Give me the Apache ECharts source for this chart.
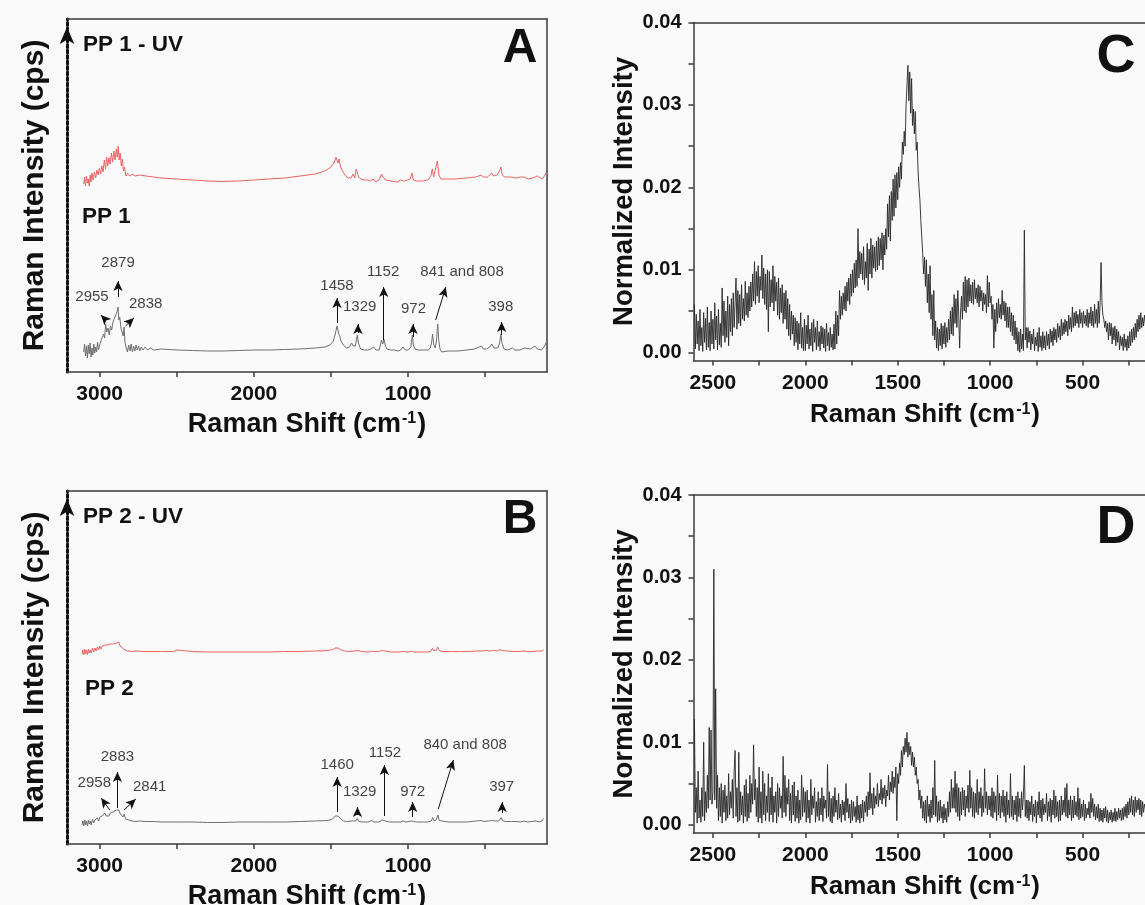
<!DOCTYPE html>
<html>
<head>
<meta charset="utf-8">
<title>Raman spectra PP1 / PP2</title>
<script src="https://cdn.jsdelivr.net/npm/echarts@6.0.0/dist/echarts.min.js"></script>
<style>
  html, body { margin: 0; padding: 0; background: #fafafa; }
  #chart { width: 1145px; height: 905px; }
</style>
</head>
<body>
<div id="chart"></div>
<script>
// ---- panel A : PP 1 (gray) and PP 1 - UV (red), [shift, intensity a.u.]
const pp1 = [[3104,20],[3098,28],[3092,16],[3086,26],[3080,14],[3074,27],[3068,18],[3062,29],[3056,15],[3050,24],[3044,17],[3038,28],[3032,19],[3026,25],[3020,20],[3014,30],[3008,22],[3002,26],[2996,24],[2990,32],[2982,30],[2975,38],[2968,34],[2961,48],[2954,40],[2946,44],[2938,37],[2930,46],[2922,42],[2914,50],[2906,48],[2898,56],[2890,54],[2884,62],[2881,65],[2876,52],[2870,55],[2862,44],[2855,42],[2848,36],[2842,45],[2836,30],[2828,24],[2820,20],[2812,27],[2804,21],[2796,28],[2788,20],[2780,26],[2772,21],[2764,27],[2756,22],[2748,26],[2740,21],[2730,25],[2720,22],[2705,25],[2690,22],[2670,24],[2650,22],[2600,23],[2500,22],[2400,21.5],[2300,21],[2200,21],[2100,21.5],[2000,22],[1900,22],[1800,22.5],[1700,23],[1600,24],[1540,25],[1505,27],[1485,31],[1472,38],[1461,46],[1452,40],[1444,38],[1435,31],[1420,27],[1400,24],[1380,25],[1366,29],[1356,26],[1342,26],[1333,34],[1329,37],[1322,29],[1308,23],[1285,22],[1262,22],[1242,23],[1223,25],[1208,22],[1188,22],[1172,32],[1164,28],[1157,33],[1148,27],[1138,23],[1115,22],[1090,22],[1065,21],[1048,22],[1033,25],[1018,22],[998,22],[982,25],[976,33],[972,37],[966,27],[955,23],[935,22],[900,22],[870,22],[856,24],[848,29],[841,38],[834,28],[824,24],[816,31],[808,48],[801,32],[793,23],[782,20],[740,21],[680,21],[620,22],[570,23],[540,25],[524,26],[512,23],[492,23],[470,25],[456,28],[442,24],[418,24],[406,29],[398,38],[391,29],[378,23],[355,22],[322,24],[308,22],[275,22],[244,24],[232,22],[205,23],[178,26],[162,23],[135,22],[115,26],[103,30]];

const pp1uv = [[3104,188],[3098,195],[3092,186],[3086,196],[3080,189],[3074,193],[3068,186],[3062,197],[3056,190],[3050,199],[3042,192],[3034,200],[3026,194],[3018,202],[3010,197],[3002,204],[2994,198],[2986,206],[2978,200],[2970,212],[2962,203],[2955,215],[2948,206],[2940,214],[2932,208],[2924,219],[2916,210],[2908,221],[2900,212],[2892,223],[2886,215],[2880,226],[2874,212],[2867,219],[2860,206],[2853,213],[2846,201],[2839,205],[2830,196],[2820,199],[2805,196],[2790,198],[2770,196],[2740,197],[2700,196],[2650,195],[2600,194],[2500,193],[2400,192],[2300,191],[2200,190.5],[2100,191],[2000,192],[1900,193],[1800,194],[1700,196],[1600,198],[1540,201],[1500,205],[1478,210],[1467,215],[1461,217],[1455,209],[1447,213],[1438,205],[1422,200],[1405,196],[1388,194],[1370,194],[1356,198],[1346,194],[1336,203],[1330,200],[1322,195],[1305,193],[1285,192],[1262,192],[1245,191],[1226,193],[1210,190],[1188,192],[1172,198],[1164,195],[1155,197],[1145,192],[1110,191],[1070,190],[1048,192],[1030,191],[1002,192],[986,193],[975,199],[966,192],[945,191],[905,191],[872,192],[852,196],[843,203],[834,195],[822,197],[810,211],[800,197],[787,193],[750,193],[700,193],[620,194],[560,195],[526,197],[512,195],[485,195],[459,199],[446,196],[422,197],[407,201],[398,205],[389,197],[372,195],[335,195],[300,194],[270,195],[246,195],[222,193],[190,194],[162,196],[132,193],[116,196],[104,199]];

// ---- panel B : PP 2 (gray) and PP 2 - UV (red)
const pp2 = [[3115,19],[3109,23],[3103,18],[3097,24],[3091,19],[3085,23],[3079,18],[3073,24],[3067,20],[3061,23],[3055,19],[3047,25],[3039,21],[3031,24],[3023,22],[3015,26],[3007,23],[2999,27],[2991,25],[2983,28],[2975,26],[2966,31],[2958,28],[2950,30],[2941,28],[2932,31],[2922,29],[2912,32],[2902,31],[2892,34],[2884,32],[2876,34],[2866,30],[2856,29],[2848,27],[2841,30],[2832,25],[2822,23],[2812,24],[2800,22],[2790,23],[2770,22.5],[2740,23],[2700,22.5],[2650,22.5],[2600,22],[2500,22],[2400,22],[2300,21.5],[2200,21.5],[2100,22],[2000,22],[1900,22],[1800,22],[1700,22.5],[1600,23],[1520,23.5],[1490,25],[1472,28],[1462,30],[1454,28],[1446,29],[1436,25],[1420,23],[1400,22.5],[1360,23],[1340,23],[1330,25.5],[1322,23],[1300,22],[1260,22],[1235,23.5],[1222,22],[1190,22],[1168,24],[1156,25],[1146,23],[1120,22],[1080,22],[1050,22],[1035,23],[1015,22],[995,22.5],[978,23],[970,24.5],[962,22.5],[940,22],[900,22],[870,22],[850,23],[840,26.5],[832,23],[818,24],[806,29],[798,23.5],[786,22],[740,22],[680,22],[620,22],[560,23],[524,23.5],[508,22.5],[480,23],[458,23.5],[430,23],[412,23],[402,25],[396,26.5],[388,23.5],[370,22.5],[330,22.5],[300,22.5],[268,22],[248,23],[228,22],[200,22.5],[170,23],[150,22],[132,23],[121,25.5]];

const pp2uv = [[3115,190],[3109,194],[3103,189],[3097,195],[3091,190],[3085,194],[3079,189],[3073,195],[3067,191],[3061,194],[3055,191],[3047,196],[3039,192],[3031,196],[3023,193],[3015,197],[3007,194],[2999,198],[2991,195],[2983,198],[2975,196],[2966,199],[2958,197],[2950,199],[2940,197],[2930,200],[2920,198],[2910,200],[2900,199],[2890,201],[2882,200],[2876,202],[2868,198],[2860,200],[2852,196],[2844,198],[2836,194],[2828,196],[2818,193],[2805,193],[2790,192.5],[2760,193],[2720,192.5],[2680,192.5],[2600,192.5],[2520,192.5],[2498,194],[2488,192.5],[2400,192.5],[2300,192],[2200,192],[2100,192],[2000,192],[1900,192],[1800,192.5],[1700,192.5],[1600,193],[1520,193.5],[1490,194.5],[1472,196],[1462,197.5],[1454,196],[1446,196.5],[1434,194],[1415,193],[1380,192.5],[1345,193],[1333,194.5],[1325,193.5],[1300,192.5],[1260,192],[1230,192.5],[1190,192.5],[1168,193.5],[1158,194.5],[1146,193],[1110,192],[1060,192],[1035,192.5],[1000,192],[975,192.8],[960,192],[920,192],[870,192],[852,193],[842,195.7],[834,193.5],[818,193.5],[808,197],[798,193.5],[780,192.5],[720,192.5],[660,192.5],[600,192.5],[555,193],[524,193],[500,193.5],[470,193],[448,193.5],[420,193],[404,194.5],[397,195.2],[390,193.5],[360,193],[320,192.5],[280,192.5],[250,193],[230,192.5],[190,192.5],[160,193],[130,193],[121,194.5]];

// ---- panels C and D : normalized spectra, shared shift axis (cm-1)
const shiftCD = [
  2600,2595,2590,2585,2580,2575,2570,2565,2560,2555,2550,2545,2540,2535,2530,2525,2520,2515,2510,2505,
  2500,2495,2490,2485,2480,2475,2470,2465,2460,2455,2450,2445,2440,2435,2430,2425,2420,2415,2410,2405,
  2400,2395,2390,2385,2380,2375,2370,2365,2360,2355,2350,2345,2340,2335,2330,2325,2320,2315,2310,2305,
  2300,2295,2290,2285,2280,2275,2270,2265,2260,2255,2250,2245,2240,2235,2230,2225,2220,2215,2210,2205,
  2200,2195,2190,2185,2180,2175,2170,2165,2160,2155,2150,2145,2140,2135,2130,2125,2120,2115,2110,2105,
  2100,2095,2090,2085,2080,2075,2070,2065,2060,2055,2050,2045,2040,2035,2030,2025,2020,2015,2010,2005,
  2000,1995,1990,1985,1980,1975,1970,1965,1960,1955,1950,1945,1940,1935,1930,1925,1920,1915,1910,1905,
  1900,1895,1890,1885,1880,1875,1870,1865,1860,1855,1850,1845,1840,1835,1830,1825,1820,1815,1810,1805,
  1800,1795,1790,1785,1780,1775,1770,1765,1760,1755,1750,1745,1740,1735,1730,1725,1720,1715,1710,1705,
  1700,1695,1690,1685,1680,1675,1670,1665,1660,1655,1650,1645,1640,1635,1630,1625,1620,1615,1610,1605,
  1600,1595,1590,1585,1580,1575,1570,1565,1560,1555,1550,1545,1540,1535,1530,1525,1520,1515,1510,1505,
  1500,1495,1490,1485,1480,1475,1470,1465,1460,1455,1450,1445,1440,1435,1430,1425,1420,1415,1410,1405,
  1400,1395,1390,1385,1380,1375,1370,1365,1360,1355,1350,1345,1340,1335,1330,1325,1320,1315,1310,1305,
  1300,1295,1290,1285,1280,1275,1270,1265,1260,1255,1250,1245,1240,1235,1230,1225,1220,1215,1210,1205,
  1200,1195,1190,1185,1180,1175,1170,1165,1160,1155,1150,1145,1140,1135,1130,1125,1120,1115,1110,1105,
  1100,1095,1090,1085,1080,1075,1070,1065,1060,1055,1050,1045,1040,1035,1030,1025,1020,1015,1010,1005,
  1000,995,990,985,980,975,970,965,960,955,950,945,940,935,930,925,920,915,910,905,
  900,895,890,885,880,875,870,865,860,855,850,845,840,835,830,825,820,815,810,805,
  800,795,790,785,780,775,770,765,760,755,750,745,740,735,730,725,720,715,710,705,
  700,695,690,685,680,675,670,665,660,655,650,645,640,635,630,625,620,615,610,605,
  600,595,590,585,580,575,570,565,560,555,550,545,540,535,530,525,520,515,510,505,
  500,495,490,485,480,475,470,465,460,455,450,445,440,435,430,425,420,415,410,405,
  400,395,390,385,380,375,370,365,360,355,350,345,340,335,330,325,320,315,310,305,
  300,295,290,285,280,275,270,265,260,255,250,245,240,235,230,225,220,215,210,205,
  200,195,190,185,180,175,170,165,160
];

const normC = [
  0.0058,0.0004,0.0046,0.0010,0.0038,0.0002,0.0052,0.0008,0.0030,0.0001,0.0048,0.0012,0.0041,0.0003,0.0055,0.0006,0.0036,0.0002,0.0050,0.0010,
  0.0040,0.0004,0.0060,0.0015,0.0044,0.0003,0.0052,0.0009,0.0035,0.0006,0.0078,0.0020,0.0062,0.0012,0.0050,0.0018,0.0068,0.0008,0.0058,0.0025,
  0.0065,0.0020,0.0072,0.0030,0.0060,0.0090,0.0028,0.0075,0.0035,0.0070,0.0032,0.0082,0.0040,0.0065,0.0038,0.0086,0.0045,0.0072,0.0042,0.0080,
  0.0050,0.0085,0.0055,0.0095,0.0062,0.0110,0.0058,0.0098,0.0068,0.0105,0.0060,0.0092,0.0075,0.0118,0.0065,0.0102,0.0058,0.0095,0.0052,0.0100,
  0.0025,0.0098,0.0055,0.0088,0.0060,0.0105,0.0050,0.0092,0.0062,0.0085,0.0045,0.0090,0.0040,0.0078,0.0048,0.0082,0.0035,0.0072,0.0040,0.0075,
  0.0028,0.0065,0.0020,0.0058,0.0015,0.0050,0.0022,0.0045,0.0008,0.0042,0.0012,0.0038,0.0003,0.0035,0.0010,0.0048,0.0005,0.0030,0.0002,0.0040,
  0.0002,0.0033,0.0010,0.0045,0.0004,0.0028,0.0008,0.0036,0.0001,0.0040,0.0012,0.0030,0.0003,0.0038,0.0007,0.0025,0.0002,0.0032,0.0010,0.0030,
  0.0005,0.0028,0.0001,0.0035,0.0008,0.0024,0.0002,0.0030,0.0006,0.0022,0.0003,0.0034,0.0004,0.0050,0.0010,0.0045,0.0020,0.0075,0.0040,0.0068,
  0.0045,0.0072,0.0052,0.0080,0.0050,0.0085,0.0062,0.0090,0.0058,0.0095,0.0068,0.0100,0.0072,0.0108,0.0078,0.0112,0.0080,0.0150,0.0090,0.0122,
  0.0095,0.0120,0.0088,0.0128,0.0082,0.0110,0.0090,0.0132,0.0075,0.0125,0.0095,0.0138,0.0090,0.0130,0.0102,0.0128,0.0098,0.0135,0.0100,0.0140,
  0.0105,0.0138,0.0112,0.0145,0.0100,0.0142,0.0118,0.0150,0.0125,0.0180,0.0140,0.0190,0.0135,0.0195,0.0160,0.0210,0.0165,0.0215,0.0175,0.0218,
  0.0185,0.0225,0.0200,0.0230,0.0210,0.0255,0.0240,0.0268,0.0250,0.0300,0.0300,0.0348,0.0305,0.0340,0.0290,0.0332,0.0275,0.0295,0.0265,0.0292,
  0.0245,0.0255,0.0220,0.0200,0.0185,0.0160,0.0140,0.0120,0.0095,0.0115,0.0080,0.0112,0.0060,0.0095,0.0048,0.0105,0.0040,0.0070,0.0020,0.0075,
  0.0015,0.0038,0.0005,0.0030,0.0002,0.0028,0.0008,0.0035,0.0004,0.0032,0.0010,0.0036,0.0006,0.0030,0.0012,0.0040,0.0015,0.0050,0.0022,0.0055,
  0.0020,0.0070,0.0035,0.0065,0.0030,0.0075,0.0045,0.0005,0.0050,0.0068,0.0040,0.0085,0.0050,0.0092,0.0048,0.0088,0.0055,0.0090,0.0062,0.0082,
  0.0060,0.0085,0.0058,0.0088,0.0065,0.0078,0.0060,0.0082,0.0055,0.0080,0.0062,0.0075,0.0050,0.0072,0.0058,0.0070,0.0048,0.0093,0.0055,0.0085,
  0.0060,0.0068,0.0040,0.0058,0.0005,0.0052,0.0025,0.0060,0.0035,0.0065,0.0042,0.0058,0.0040,0.0075,0.0045,0.0062,0.0038,0.0060,0.0030,0.0055,
  0.0030,0.0055,0.0025,0.0048,0.0020,0.0045,0.0015,0.0038,0.0010,0.0030,0.0002,0.0025,0.0000,0.0028,0.0004,0.0022,0.0002,0.0148,0.0015,0.0030,
  0.0005,0.0030,0.0012,0.0026,0.0003,0.0022,0.0010,0.0028,0.0002,0.0018,0.0008,0.0024,0.0001,0.0030,0.0006,0.0020,0.0002,0.0025,0.0005,0.0020,
  0.0003,0.0025,0.0008,0.0022,0.0004,0.0028,0.0012,0.0026,0.0008,0.0030,0.0015,0.0028,0.0012,0.0035,0.0018,0.0032,0.0015,0.0040,0.0020,0.0036,
  0.0022,0.0040,0.0025,0.0038,0.0020,0.0045,0.0028,0.0042,0.0025,0.0055,0.0030,0.0048,0.0032,0.0050,0.0035,0.0046,0.0030,0.0052,0.0035,0.0048,
  0.0030,0.0050,0.0035,0.0045,0.0032,0.0052,0.0030,0.0048,0.0035,0.0055,0.0032,0.0050,0.0030,0.0058,0.0035,0.0052,0.0030,0.0062,0.0035,0.0060,
  0.0109,0.0060,0.0045,0.0040,0.0030,0.0038,0.0025,0.0035,0.0015,0.0036,0.0020,0.0035,0.0010,0.0030,0.0015,0.0032,0.0008,0.0028,0.0012,0.0025,
  0.0003,0.0020,0.0008,0.0018,0.0002,0.0022,0.0006,0.0016,0.0002,0.0020,0.0005,0.0025,0.0008,0.0028,0.0012,0.0030,0.0015,0.0035,0.0018,0.0040,
  0.0025,0.0045,0.0028,0.0048,0.0030,0.0042,0.0032,0.0045,0.0035
];

const normD = [
  0.0128,0.0015,0.0045,0.0002,0.0065,0.0008,0.0030,0.0003,0.0045,0.0010,0.0100,0.0005,0.0040,0.0015,0.0060,0.0020,0.0118,0.0030,0.0115,0.0025,
  0.0040,0.0310,0.0030,0.0165,0.0020,0.0060,0.0005,0.0045,0.0010,0.0050,0.0002,0.0042,0.0015,0.0048,0.0005,0.0035,0.0008,0.0062,0.0012,0.0040,
  0.0020,0.0055,0.0008,0.0065,0.0090,0.0010,0.0045,0.0003,0.0088,0.0005,0.0040,0.0012,0.0035,0.0002,0.0048,0.0010,0.0055,0.0004,0.0038,0.0008,
  0.0060,0.0015,0.0050,0.0025,0.0097,0.0030,0.0055,0.0010,0.0045,0.0003,0.0070,0.0008,0.0040,0.0002,0.0065,0.0012,0.0050,0.0005,0.0035,0.0015,
  0.0062,0.0004,0.0045,0.0012,0.0058,0.0003,0.0035,0.0015,0.0040,0.0002,0.0050,0.0010,0.0045,0.0020,0.0035,0.0008,0.0083,0.0015,0.0060,0.0010,
  0.0045,0.0025,0.0055,0.0005,0.0038,0.0002,0.0048,0.0012,0.0052,0.0004,0.0035,0.0008,0.0042,0.0002,0.0030,0.0006,0.0060,0.0010,0.0045,0.0015,
  0.0040,0.0003,0.0042,0.0008,0.0030,0.0002,0.0055,0.0012,0.0035,0.0020,0.0045,0.0003,0.0028,0.0010,0.0040,0.0005,0.0032,0.0012,0.0045,0.0004,
  0.0035,0.0020,0.0030,0.0008,0.0073,0.0010,0.0040,0.0004,0.0032,0.0002,0.0035,0.0010,0.0045,0.0015,0.0030,0.0006,0.0038,0.0008,0.0025,0.0003,
  0.0030,0.0012,0.0028,0.0005,0.0050,0.0015,0.0032,0.0008,0.0025,0.0002,0.0030,0.0005,0.0028,0.0010,0.0022,0.0003,0.0035,0.0006,0.0024,0.0002,
  0.0025,0.0008,0.0030,0.0004,0.0028,0.0015,0.0035,0.0010,0.0040,0.0018,0.0063,0.0020,0.0038,0.0012,0.0045,0.0020,0.0035,0.0025,0.0050,0.0022,
  0.0038,0.0030,0.0055,0.0025,0.0045,0.0032,0.0048,0.0022,0.0042,0.0035,0.0060,0.0030,0.0052,0.0040,0.0065,0.0038,0.0058,0.0045,0.0070,0.0005,
  0.0062,0.0050,0.0075,0.0060,0.0090,0.0070,0.0095,0.0085,0.0105,0.0088,0.0112,0.0082,0.0100,0.0085,0.0095,0.0072,0.0088,0.0070,0.0082,0.0060,
  0.0070,0.0050,0.0055,0.0030,0.0042,0.0020,0.0035,0.0008,0.0028,0.0005,0.0030,0.0002,0.0035,0.0010,0.0025,0.0003,0.0030,0.0008,0.0045,0.0012,
  0.0078,0.0010,0.0035,0.0003,0.0028,0.0005,0.0030,0.0008,0.0022,0.0002,0.0025,0.0006,0.0020,0.0003,0.0028,0.0010,0.0040,0.0015,0.0055,0.0020,
  0.0045,0.0020,0.0065,0.0015,0.0050,0.0010,0.0045,0.0005,0.0040,0.0012,0.0045,0.0018,0.0042,0.0010,0.0035,0.0020,0.0048,0.0015,0.0066,0.0020,
  0.0045,0.0010,0.0040,0.0008,0.0038,0.0015,0.0055,0.0012,0.0040,0.0020,0.0045,0.0010,0.0035,0.0015,0.0068,0.0020,0.0040,0.0012,0.0035,0.0018,
  0.0035,0.0010,0.0045,0.0008,0.0040,0.0015,0.0035,0.0005,0.0060,0.0012,0.0038,0.0008,0.0035,0.0015,0.0042,0.0010,0.0035,0.0003,0.0040,0.0012,
  0.0030,0.0008,0.0062,0.0010,0.0035,0.0006,0.0030,0.0012,0.0035,0.0004,0.0040,0.0010,0.0032,0.0008,0.0040,0.0018,0.0035,0.0072,0.0010,0.0030,
  0.0008,0.0030,0.0005,0.0028,0.0012,0.0035,0.0004,0.0025,0.0010,0.0030,0.0002,0.0028,0.0012,0.0040,0.0008,0.0030,0.0004,0.0032,0.0012,0.0025,
  0.0015,0.0038,0.0005,0.0028,0.0010,0.0032,0.0003,0.0030,0.0012,0.0042,0.0008,0.0035,0.0010,0.0028,0.0004,0.0030,0.0005,0.0035,0.0012,0.0030,
  0.0015,0.0045,0.0010,0.0050,0.0008,0.0030,0.0012,0.0035,0.0005,0.0030,0.0008,0.0035,0.0012,0.0028,0.0010,0.0045,0.0006,0.0032,0.0008,0.0025,
  0.0010,0.0030,0.0005,0.0025,0.0008,0.0020,0.0012,0.0028,0.0008,0.0038,0.0015,0.0032,0.0010,0.0025,0.0006,0.0022,0.0008,0.0025,0.0004,0.0020,
  0.0005,0.0018,0.0003,0.0020,0.0008,0.0022,0.0004,0.0018,0.0002,0.0015,0.0006,0.0018,0.0003,0.0015,0.0005,0.0020,0.0004,0.0016,0.0006,0.0020,
  0.0008,0.0018,0.0005,0.0020,0.0006,0.0022,0.0010,0.0025,0.0008,0.0028,0.0012,0.0032,0.0015,0.0035,0.0012,0.0030,0.0010,0.0034,0.0015,0.0030,
  0.0018,0.0032,0.0012,0.0030,0.0010,0.0028,0.0015,0.0025,0.0020
];

// tick labels
const ticksAB = [3000, 2000, 1000];
const minorAB = [3000, 2500, 2000, 1500, 1000, 500];
const ticksCD = [2500, 2000, 1500, 1000, 500];
const minorCD = [2500, 2250, 2000, 1750, 1500, 1250, 1000, 750, 500, 250];
const ticksNorm = [0, 0.01, 0.02, 0.03, 0.04];
const minorNorm = [0, 0.005, 0.01, 0.015, 0.02, 0.025, 0.03, 0.035, 0.04];

// peak annotations: label, arrow tail [shift, I], arrow head [shift, I], label anchor [shift, I]
const peaksA = [
  ['2955', [2961, 52], [2992, 57], [3050, 74.7]],
  ['2879', [2881, 75], [2881, 91], [2881, 108.7]],
  ['2838', [2833, 46], [2778, 54], [2702, 68]],
  ['1458', [1461, 49], [1461, 74], [1461, 86.3]],
  ['1329', [1325, 39], [1325, 48], [1314, 64.7]],
  ['1152', [1158, 32], [1158, 85], [1162, 100.3]],
  ['972', [968, 35], [968, 48], [965, 63]],
  ['841 and 808', [821, 52], [755, 85], [650, 99.7]],
  ['398', [393, 37], [393, 50], [399, 64.7]]
];
const peaksB = [
  ['2958', [2935, 34], [2990, 46], [3035, 60.7]],
  ['2883', [2885, 36], [2885, 72], [2885, 87.3]],
  ['2841', [2842, 34], [2766, 45], [2676, 57.3]],
  ['1460', [1460, 32], [1460, 67], [1460, 79]],
  ['1329', [1328, 29], [1328, 37], [1314, 52.3]],
  ['1152', [1154, 28], [1154, 79], [1150, 91.3]],
  ['972', [970, 27], [970, 42], [970, 52.3]],
  ['840 and 808', [804, 35], [706, 84], [630, 99]],
  ['397', [390, 31], [390, 42], [393, 57.3]]
];

const FONT = 'Liberation Sans';
const AXIS = '#3a3a3a';
const GRAYLINE = '#6f6f6f';
const REDLINE = '#ee6363';

const shiftName = '{t|Raman Shift (cm}{s|-1}{t|)}';
function shiftNameStyle(size) {
  return {
    rich: {
      t: { fontSize: size, fontWeight: 'bold', color: '#111', fontFamily: FONT },
      s: { fontSize: Math.round(size * 0.6), fontWeight: 'bold', color: '#111', fontFamily: FONT, verticalAlign: 'top', padding: [0, 1, 0, 1] }
    }
  };
}

function bottomAxis(grid, min, max, labels, ticks, nameSize, gap, margin) {
  return {
    type: 'value', gridIndex: grid, min: min, max: max, inverse: true, position: 'bottom',
    axisLine: { show: true, onZero: false, lineStyle: { color: AXIS, width: 1.5 } },
    axisTick: { show: true, length: 5, customValues: ticks, lineStyle: { color: AXIS, width: 1.5 } },
    axisLabel: { customValues: labels, margin: margin, fontSize: 21, fontWeight: 'bold', color: '#111', fontFamily: FONT,
      formatter: v => String(v) },
    splitLine: { show: false },
    name: shiftName, nameLocation: 'middle', nameGap: gap, nameMoveOverlap: false,
    nameTextStyle: shiftNameStyle(nameSize)
  };
}
function borderX(grid) {
  return {
    type: 'value', gridIndex: grid, position: 'top', min: 0, max: 1,
    axisLine: { show: true, onZero: false, lineStyle: { color: AXIS, width: 1.5 } },
    axisTick: { show: false }, axisLabel: { show: false }, splitLine: { show: false }
  };
}
function intensityAxis(grid) {
  return {
    type: 'value', gridIndex: grid, min: 0, max: 353,
    axisLine: { show: true, onZero: false, symbol: ['none', 'arrow'], symbolSize: [11, 17], symbolOffset: [0, -8],
      lineStyle: { color: '#111', width: 3, type: [3, 2.5] } },
    axisTick: { show: false }, axisLabel: { show: false }, splitLine: { show: false },
    name: 'Raman Intensity (cps)', nameLocation: 'middle', nameGap: 17, nameMoveOverlap: false,
    nameTextStyle: { fontSize: 30, fontWeight: 'bold', color: '#111', fontFamily: FONT }
  };
}
function borderY(grid) {
  return {
    type: 'value', gridIndex: grid, position: 'right', min: 0, max: 1,
    axisLine: { show: true, onZero: false, lineStyle: { color: AXIS, width: 1.5 } },
    axisTick: { show: false }, axisLabel: { show: false }, splitLine: { show: false }
  };
}
function normAxis(grid) {
  return {
    type: 'value', gridIndex: grid, min: -0.001, max: 0.04,
    axisLine: { show: true, onZero: false, lineStyle: { color: AXIS, width: 1.5 } },
    axisTick: { show: true, length: 5, customValues: minorNorm, lineStyle: { color: AXIS, width: 1.5 } },
    axisLabel: { customValues: ticksNorm, margin: 12, fontSize: 20, fontWeight: 'bold', color: '#111', fontFamily: FONT,
      formatter: v => v.toFixed(2) },
    splitLine: { show: false },
    name: 'Normalized Intensity', nameLocation: 'middle', nameGap: 55, nameMoveOverlap: false,
    nameTextStyle: { fontSize: 27.5, fontWeight: 'bold', color: '#111', fontFamily: FONT }
  };
}

function arrows(peaks) {
  return {
    silent: true, animation: false,
    symbol: ['none', 'arrow'], symbolSize: [7, 10],
    lineStyle: { color: '#111', width: 1, type: 'solid' },
    label: { show: false },
    data: peaks.map(p => [{ coord: p[1] }, { coord: p[2] }])
  };
}
function peakLabels(peaks, xi, yi) {
  return {
    type: 'scatter', xAxisIndex: xi, yAxisIndex: yi, symbolSize: 0, silent: true,
    data: peaks.map(p => [p[3][0], p[3][1], p[0]]),
    label: { show: true, position: 'inside', formatter: p => p.value[2], color: '#111', fontSize: 15, fontFamily: FONT }
  };
}
function spectrum(data, xi, yi, color, width, extra) {
  return Object.assign({
    type: 'line', xAxisIndex: xi, yAxisIndex: yi, data: data, showSymbol: false, symbol: 'none',
    silent: true, lineStyle: { color: color, width: width }
  }, extra || {});
}

const chart = echarts.init(document.getElementById('chart'));
const txt = (t, x, y, size, align) => ({
  type: 'text', x: x, y: y, silent: true,
  style: { text: t, fontSize: size, fontWeight: 'bold', fontFamily: FONT, fill: '#111', align: align || 'left', verticalAlign: 'middle' }
});

chart.setOption({
  backgroundColor: '#fafafa',
  animation: false,
  textStyle: { fontFamily: FONT },
  grid: [
    { left: 67, top: 19, width: 480, height: 353, outerBoundsMode: 'none' },
    { left: 67, top: 491, width: 480, height: 353, outerBoundsMode: 'none' },
    { left: 693.5, top: 22.5, width: 463, height: 338, outerBoundsMode: 'none' },
    { left: 693.5, top: 495, width: 463, height: 338, outerBoundsMode: 'none' }
  ],
  xAxis: [
    bottomAxis(0, 99, 3212, ticksAB, minorAB, 27, 39, 12),
    bottomAxis(1, 99, 3212, ticksAB, minorAB, 27, 39, 12),
    bottomAxis(2, 100, 2605, ticksCD, minorCD, 26, 41, 12),
    bottomAxis(3, 100, 2605, ticksCD, minorCD, 26, 41, 12),
    borderX(0), borderX(1), borderX(2), borderX(3)
  ],
  yAxis: [
    intensityAxis(0), intensityAxis(1), normAxis(2), normAxis(3),
    borderY(0), borderY(1)
  ],
  graphic: [
    txt('PP 1 - UV', 83, 45, 22.5), txt('PP 1', 82, 217, 22.5), txt('A', 520, 49, 48, 'center'),
    txt('PP 2 - UV', 83, 517, 22.5), txt('PP 2', 85, 689, 22.5), txt('B', 520, 520, 48, 'center'),
    txt('C', 1116, 57, 54, 'center'), txt('D', 1116, 528, 54, 'center')
  ],
  series: [
    spectrum(pp1uv, 0, 0, REDLINE, 1),
    spectrum(pp1, 0, 0, GRAYLINE, 1, { markLine: arrows(peaksA) }),
    peakLabels(peaksA, 0, 0),
    spectrum(pp2uv, 1, 1, REDLINE, 1),
    spectrum(pp2, 1, 1, GRAYLINE, 1, { markLine: arrows(peaksB) }),
    peakLabels(peaksB, 1, 1),
    spectrum(shiftCD.map((s, i) => [s, normC[i]]), 2, 2, '#262626', 0.9),
    spectrum(shiftCD.map((s, i) => [s, normD[i]]), 3, 3, '#262626', 0.9)
  ]
});
</script>
</body>
</html>
